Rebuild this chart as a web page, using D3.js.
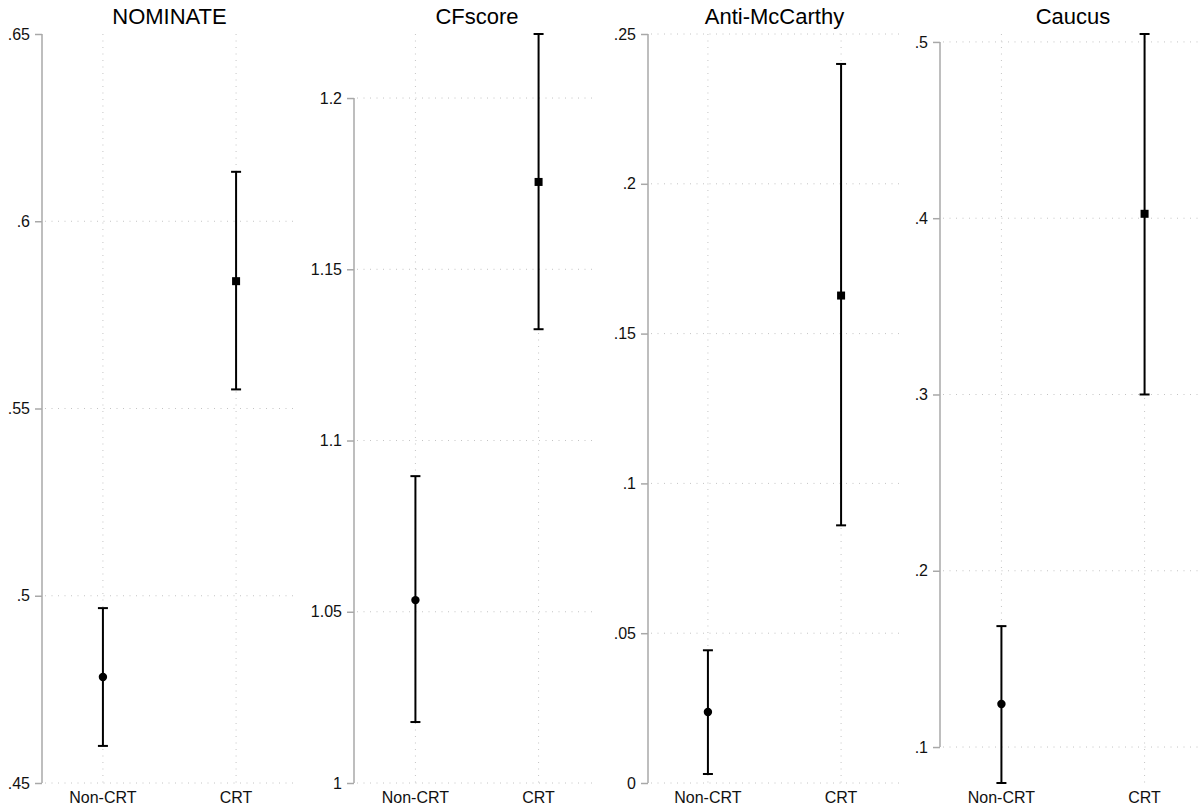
<!DOCTYPE html>
<html>
<head>
<meta charset="utf-8">
<script src="https://cdn.jsdelivr.net/npm/d3@7"></script>
<style>
  body { margin: 0; background: #fff; }
  svg { font-family: "Liberation Sans", Arial, sans-serif; }
  .grid line { stroke: #c4c4c4; stroke-width: 1; stroke-dasharray: 1 5.5; }
  .xlab { font-size: 16px; fill: #111; }
  .title { font-size: 22px; fill: #000; }
</style>
</head>
<body>
<div id="chart"></div>
<script>
// data
var groups = ["Non-CRT", "CRT"];
var titles = ["NOMINATE", "CFscore", "Anti-McCarthy", "Caucus"];
var estimates = [[0.4783, 0.5840], [1.0534, 1.1755], [0.0237, 0.1627], [0.1244, 0.4025]];
var lowerCI   = [[0.4599, 0.5551], [1.0178, 1.1325], [0.0030, 0.0860], [0.0796, 0.3000]];
var upperCI   = [[0.4967, 0.6132], [1.0896, 1.2187], [0.0443, 0.2400], [0.1686, 0.5045]];
var yTicks = [
  [0.45, 0.5, 0.55, 0.6, 0.65],
  [1, 1.05, 1.1, 1.15, 1.2],
  [0, 0.05, 0.1, 0.15, 0.2, 0.25],
  [0.1, 0.2, 0.3, 0.4, 0.5]
];
var yTickLabels = [
  [".45", ".5", ".55", ".6", ".65"],
  ["1", "1.05", "1.1", "1.15", "1.2"],
  ["0", ".05", ".1", ".15", ".2", ".25"],
  [".1", ".2", ".3", ".4", ".5"]
];

// layout of the four panels
var width = 1199, height = 811,
    plotTop = 34, plotBottom = 783;
var panels = [
  {axisX: 42,  x0: 43,  x1: 296,  topGrid: false},
  {axisX: 354, x0: 360, x1: 594,  topGrid: true},
  {axisX: 648, x0: 648, x1: 901,  topGrid: true},
  {axisX: 940, x0: 937, x1: 1209, topGrid: true}
];

var svg = d3.select("#chart").append("svg")
    .attr("width", width)
    .attr("height", height);

titles.forEach(function(title, i) {
  var p = panels[i],
      ticks = yTicks[i];

  var x = d3.scalePoint()
      .domain(groups)
      .range([p.x0, p.x1])
      .padding(0.45);

  var y = d3.scaleLinear()
      .domain([Math.min(d3.min(lowerCI[i]), ticks[0]),
               Math.max(d3.max(upperCI[i]), ticks[ticks.length - 1])])
      .range([plotBottom, plotTop]);

  var g = svg.append("g").attr("class", "panel");

  // dotted gridlines
  var grid = g.append("g").attr("class", "grid");
  grid.selectAll(".h")
      .data(ticks.filter(function(t, k) { return p.topGrid || k < ticks.length - 1; }))
    .enter().append("line")
      .attr("x1", p.axisX + 3)
      .attr("x2", Math.min(p.x1, width))
      .attr("y1", function(d) { return y(d); })
      .attr("y2", function(d) { return y(d); });
  grid.selectAll(".v")
      .data(groups)
    .enter().append("line")
      .attr("x1", function(d) { return x(d); })
      .attr("x2", function(d) { return x(d); })
      .attr("y1", plotTop)
      .attr("y2", plotBottom);

  // y axis
  var yAxis = d3.axisLeft(y)
      .tickValues(ticks)
      .tickFormat(function(d, k) { return yTickLabels[i][k]; })
      .tickSize(7)
      .tickPadding(5);
  var ax = g.append("g")
      .attr("class", "yaxis")
      .attr("transform", "translate(" + p.axisX + ",0)")
      .call(yAxis)
      .attr("font-family", "Liberation Sans, Arial, sans-serif")
      .attr("font-size", 16);
  ax.select(".domain").remove();
  ax.selectAll(".tick line")
      .attr("stroke", "#a8a8a8")
      .attr("stroke-width", 1.5);
  ax.selectAll(".tick text").attr("fill", "#111");
  ax.append("line")
      .attr("y1", y(ticks[0]))
      .attr("y2", y(ticks[ticks.length - 1]))
      .attr("stroke", "#a8a8a8")
      .attr("stroke-width", 1.5);

  // x labels
  g.selectAll(".xlab")
      .data(groups)
    .enter().append("text")
      .attr("class", "xlab")
      .attr("x", function(d) { return x(d); })
      .attr("y", 803)
      .attr("text-anchor", "middle")
      .text(function(d) { return d; });

  // title
  g.append("text")
      .attr("class", "title")
      .attr("x", (p.x0 + p.x1) / 2)
      .attr("y", 24)
      .attr("text-anchor", "middle")
      .text(title);

  // error bars
  var bars = g.selectAll(".bar")
      .data(groups)
    .enter().append("g")
      .attr("class", "bar")
      .attr("transform", function(d) { return "translate(" + x(d) + ",0)"; });
  bars.append("line")
      .attr("y1", function(d, k) { return y(lowerCI[i][k]); })
      .attr("y2", function(d, k) { return y(upperCI[i][k]); })
      .attr("stroke", "#000")
      .attr("stroke-width", 2);
  bars.append("line")
      .attr("x1", -5).attr("x2", 5)
      .attr("y1", function(d, k) { return y(lowerCI[i][k]); })
      .attr("y2", function(d, k) { return y(lowerCI[i][k]); })
      .attr("stroke", "#000")
      .attr("stroke-width", 2);
  bars.append("line")
      .attr("x1", -5).attr("x2", 5)
      .attr("y1", function(d, k) { return y(upperCI[i][k]); })
      .attr("y2", function(d, k) { return y(upperCI[i][k]); })
      .attr("stroke", "#000")
      .attr("stroke-width", 2);

  // markers: circle for Non-CRT, square for CRT
  bars.filter(function(d, k) { return k === 0; })
    .append("circle")
      .attr("cy", y(estimates[i][0]))
      .attr("r", 4.2)
      .attr("fill", "#000");
  bars.filter(function(d, k) { return k === 1; })
    .append("rect")
      .attr("x", -4)
      .attr("y", y(estimates[i][1]) - 4)
      .attr("width", 8)
      .attr("height", 8)
      .attr("fill", "#000");
});
</script>
</body>
</html>
